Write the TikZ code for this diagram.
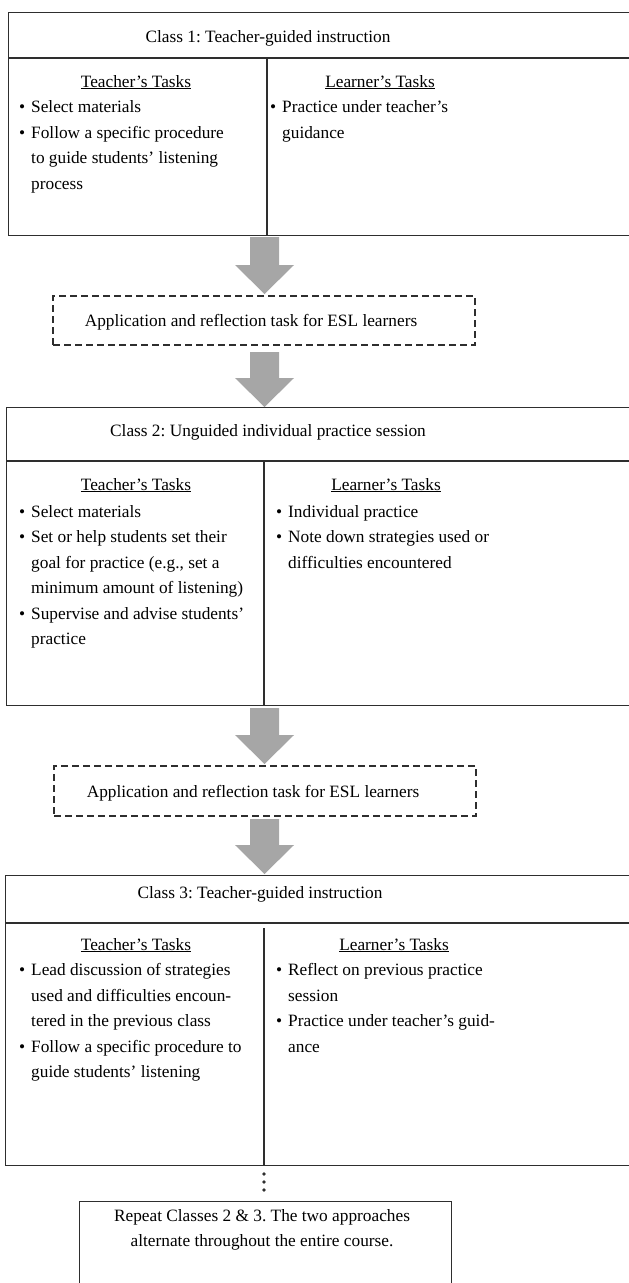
\documentclass[tikz,border=0pt]{standalone}
\usepackage{fontspec}
\setmainfont{Liberation Serif}
\usetikzlibrary{calc}
\definecolor{linec}{HTML}{2E2E2E}
\definecolor{arrowc}{HTML}{A6A6A6}
\newcommand{\blk}{\fontsize{17.3}{25.5}\selectfont\frenchspacing}
\newcommand{\barrow}[2]{\fill[blockarrow] let \p1=(#1), \p2=(#2) in
  (\x2-14.5pt,\y1) -- (\x2+14.5pt,\y1) -- (\x2+14.5pt,\y2+29pt) -- (\x2+29.5pt,\y2+29pt)
  -- (\x2,\y2) -- (\x2-29.5pt,\y2+29pt) -- (\x2-14.5pt,\y2+29pt) -- cycle;}
\newcommand{\blist}[1]{\begin{tabular}[t]{@{}p{12pt}@{}l@{}}#1\end{tabular}}
\begin{document}
\frenchspacing
\begin{tikzpicture}[x=1pt,y=-1pt,
  frame/.style={draw=linec, line width=1.2pt, inner sep=0pt, anchor=north west},
  divline/.style={draw=linec, line width=1.2pt},
  dashbox/.style={draw=linec, line width=1.1pt, dash pattern=on 7pt off 4pt, inner sep=0pt},
  txt/.style={inner sep=0pt, font=\blk, text=black},
  blockarrow/.style={fill=arrowc, draw=none}]
\useasboundingbox (0,0) rectangle (629,1283);
\clip (0,0) rectangle (629,1283);

% ---------- Class 1 ----------
\node[frame, minimum width=640pt, minimum height=223pt] (c1) at (8,12) {};
\draw[divline] ($(c1.north west)+(0,46)$) -- ++(640,0);
\draw[divline] ($(c1.north west)+(259,46)$) -- (c1.south west -| 267,0);
\node[txt, anchor=base] (c1t) at (268,42) {Class 1: Teacher-guided instruction};
\node[txt, anchor=base] (c1hl) at (136,87) {\underline{Teacher’s Tasks}};
\node[txt, anchor=base] (c1hr) at (380,87) {\underline{Learner’s Tasks}};
\node[txt, anchor=base west] (c1l) at (19,112.5) {\blist{
  \textbullet & Select materials\\
  \textbullet & Follow a specific procedure\\
  & to guide students’ listening\\
  & process}};
\node[txt, anchor=base west] (c1r) at (270,112.5) {\blist{
  \textbullet & Practice under teacher’s\\
  & guidance}};

% ---------- Dashed 1 ----------
\node[dashbox, minimum width=422pt, minimum height=49pt] (d1) at (264,320.5) {};
\node[txt, anchor=base] (d1t) at (251,326) {Application and reflection task for ESL learners};

% ---------- Class 2 ----------
\node[frame, minimum width=640pt, minimum height=298pt] (c2) at (6,407) {};
\draw[divline] ($(c2.north west)+(0,54)$) -- ++(640,0);
\draw[divline] ($(c2.north west)+(258,54)$) -- (c2.south west -| 264,0);
\node[txt, anchor=base] (c2t) at (268,436) {Class 2: Unguided individual practice session};
\node[txt, anchor=base] (c2hl) at (136,490) {\underline{Teacher’s Tasks}};
\node[txt, anchor=base] (c2hr) at (386,490) {\underline{Learner’s Tasks}};
\node[txt, anchor=base west] (c2l) at (19,517) {\blist{
  \textbullet & Select materials\\
  \textbullet & Set or help students set their\\
  & goal for practice (e.g., set a\\
  & minimum amount of listening)\\
  \textbullet & Supervise and advise students’\\
  & practice}};
\node[txt, anchor=base west] (c2r) at (276,517) {\blist{
  \textbullet & Individual practice\\
  \textbullet & Note down strategies used or\\
  & difficulties encountered}};

% ---------- Dashed 2 ----------
\node[dashbox, minimum width=422pt, minimum height=50pt] (d2) at (265,791) {};
\node[txt, anchor=base] (d2t) at (253,797) {Application and reflection task for ESL learners};

% ---------- Class 3 ----------
\node[frame, minimum width=640pt, minimum height=290pt] (c3) at (5,875) {};
\draw[divline] ($(c3.north west)+(0,48)$) -- ++(640,0);
\draw[divline] ($(c3.north west)+(259,53)$) -- (c3.south west -| 264,0);
\node[txt, anchor=base] (c3t) at (260,898) {Class 3: Teacher-guided instruction};
\node[txt, anchor=base] (c3hl) at (136,950) {\underline{Teacher’s Tasks}};
\node[txt, anchor=base] (c3hr) at (394,950) {\underline{Learner’s Tasks}};
\node[txt, anchor=base west] (c3l) at (19,975.5) {\blist{
  \textbullet & Lead discussion of strategies\\
  & used and difficulties encoun-\\
  & tered in the previous class\\
  \textbullet & Follow a specific procedure to\\
  & guide students’ listening}};
\node[txt, anchor=base west] (c3r) at (276,975.5) {\blist{
  \textbullet & Reflect on previous practice\\
  & session\\
  \textbullet & Practice under teacher’s guid-\\
  & ance}};

% ---------- Final box ----------
\node[frame, minimum width=372pt, minimum height=110pt] (fin) at (79,1201) {};
\node[txt, anchor=base] (fint) at (262,1221) {\begin{tabular}[t]{@{}c@{}}Repeat Classes 2 \& 3. The two approaches\\alternate throughout the entire course.\end{tabular}};

% ---------- Block arrows ----------
\coordinate (a1s) at (264.5,237); \coordinate (a1t) at (264.5,294);
\coordinate (a2s) at (264.5,352); \coordinate (a2t) at (264.5,407);
\coordinate (a3s) at (264.5,708); \coordinate (a3t) at (264.5,764);
\coordinate (a4s) at (264.5,819); \coordinate (a4t) at (264.5,874);
\barrow{a1s}{a1t}
\barrow{a2s}{a2t}
\barrow{a3s}{a3t}
\barrow{a4s}{a4t}

% ---------- Dots ----------
\foreach \yy/\nm in {1174/p1,1182/p2,1190/p3}
  \fill[linec] (264,\yy) circle (1.8pt) coordinate (\nm);
\end{tikzpicture}
\end{document}
